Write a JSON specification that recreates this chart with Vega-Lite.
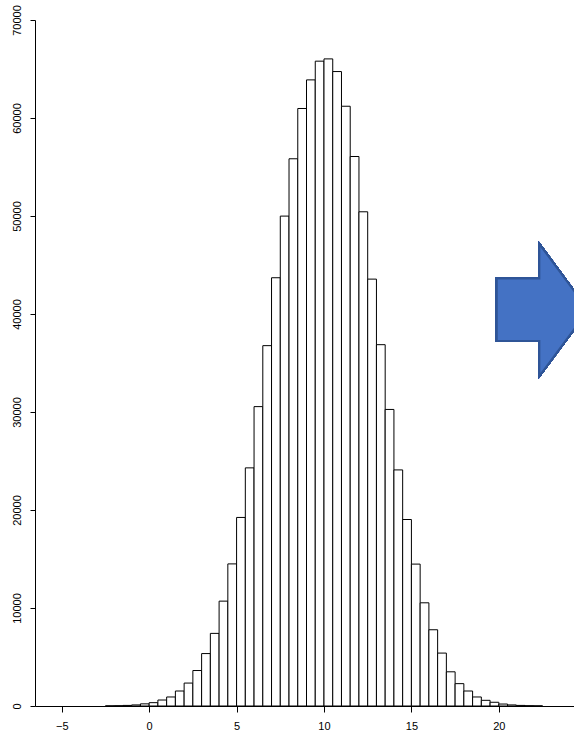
{
  "$schema": "https://vega.github.io/schema/vega-lite/v6.json",
  "autosize": {"type": "none"},
  "padding": {"left": 35, "top": 20, "right": 0, "bottom": 30},
  "width": 539,
  "height": 686,
  "background": "white",
  "config": {
    "view": {"stroke": null},
    "font": "Liberation Sans",
    "axis": {
      "grid": false,
      "domainColor": "black",
      "domainWidth": 1,
      "tickColor": "black",
      "tickWidth": 1,
      "labelColor": "black",
      "labelFont": "Liberation Sans",
      "labelFontSize": 11,
      "title": null
    }
  },
  "data": {
    "values": [
      {"bin_start": -2.5, "bin_end": -2.0, "count": 15},
      {"bin_start": -2.0, "bin_end": -1.5, "count": 30},
      {"bin_start": -1.5, "bin_end": -1.0, "count": 60},
      {"bin_start": -1.0, "bin_end": -0.5, "count": 110},
      {"bin_start": -0.5, "bin_end": 0.0, "count": 220},
      {"bin_start": 0.0, "bin_end": 0.5, "count": 340},
      {"bin_start": 0.5, "bin_end": 1.0, "count": 610},
      {"bin_start": 1.0, "bin_end": 1.5, "count": 920},
      {"bin_start": 1.5, "bin_end": 2.0, "count": 1530},
      {"bin_start": 2.0, "bin_end": 2.5, "count": 2340},
      {"bin_start": 2.5, "bin_end": 3.0, "count": 3620},
      {"bin_start": 3.0, "bin_end": 3.5, "count": 5350},
      {"bin_start": 3.5, "bin_end": 4.0, "count": 7410},
      {"bin_start": 4.0, "bin_end": 4.5, "count": 10700},
      {"bin_start": 4.5, "bin_end": 5.0, "count": 14500},
      {"bin_start": 5.0, "bin_end": 5.5, "count": 19240},
      {"bin_start": 5.5, "bin_end": 6.0, "count": 24300},
      {"bin_start": 6.0, "bin_end": 6.5, "count": 30550},
      {"bin_start": 6.5, "bin_end": 7.0, "count": 36770},
      {"bin_start": 7.0, "bin_end": 7.5, "count": 43700},
      {"bin_start": 7.5, "bin_end": 8.0, "count": 49990},
      {"bin_start": 8.0, "bin_end": 8.5, "count": 55840},
      {"bin_start": 8.5, "bin_end": 9.0, "count": 60970},
      {"bin_start": 9.0, "bin_end": 9.5, "count": 63890},
      {"bin_start": 9.5, "bin_end": 10.0, "count": 65800},
      {"bin_start": 10.0, "bin_end": 10.5, "count": 66030},
      {"bin_start": 10.5, "bin_end": 11.0, "count": 64740},
      {"bin_start": 11.0, "bin_end": 11.5, "count": 61200},
      {"bin_start": 11.5, "bin_end": 12.0, "count": 56070},
      {"bin_start": 12.0, "bin_end": 12.5, "count": 50430},
      {"bin_start": 12.5, "bin_end": 13.0, "count": 43560},
      {"bin_start": 13.0, "bin_end": 13.5, "count": 36870},
      {"bin_start": 13.5, "bin_end": 14.0, "count": 30260},
      {"bin_start": 14.0, "bin_end": 14.5, "count": 24090},
      {"bin_start": 14.5, "bin_end": 15.0, "count": 19030},
      {"bin_start": 15.0, "bin_end": 15.5, "count": 14480},
      {"bin_start": 15.5, "bin_end": 16.0, "count": 10530},
      {"bin_start": 16.0, "bin_end": 16.5, "count": 7780},
      {"bin_start": 16.5, "bin_end": 17.0, "count": 5400},
      {"bin_start": 17.0, "bin_end": 17.5, "count": 3490},
      {"bin_start": 17.5, "bin_end": 18.0, "count": 2280},
      {"bin_start": 18.0, "bin_end": 18.5, "count": 1530},
      {"bin_start": 18.5, "bin_end": 19.0, "count": 920},
      {"bin_start": 19.0, "bin_end": 19.5, "count": 580},
      {"bin_start": 19.5, "bin_end": 20.0, "count": 380},
      {"bin_start": 20.0, "bin_end": 20.5, "count": 200},
      {"bin_start": 20.5, "bin_end": 21.0, "count": 110},
      {"bin_start": 21.0, "bin_end": 21.5, "count": 60},
      {"bin_start": 21.5, "bin_end": 22.0, "count": 30},
      {"bin_start": 22.0, "bin_end": 22.5, "count": 15}
    ]
  },
  "layer": [
    {
      "mark": {"type": "rect", "fill": "white", "stroke": "black", "strokeWidth": 1},
      "encoding": {
        "x": {
          "field": "bin_start",
          "type": "quantitative",
          "scale": {"domain": [-6.53, 24.3], "nice": false, "zero": false},
          "axis": {
            "values": [-5, 0, 5, 10, 15, 20],
            "tickSize": 6,
            "labelPadding": 8,
            "labelFlush": false,
            "format": "d"
          }
        },
        "x2": {"field": "bin_end"},
        "y": {
          "field": "count",
          "type": "quantitative",
          "scale": {"domain": [0, 70000], "nice": false},
          "axis": {
            "values": [0, 10000, 20000, 30000, 40000, 50000, 60000, 70000],
            "tickSize": 5,
            "labelAngle": -90,
            "labelAlign": "center",
            "labelBaseline": "bottom",
            "labelPadding": 8,
            "labelFlush": false,
            "format": "d"
          }
        },
        "y2": {"datum": 0}
      }
    },
    {
      "mark": {
        "type": "point",
        "shape": "M -0.693 -0.48 L -0.048 -0.48 L -0.048 -1 L 0.693 0 L -0.048 1 L -0.048 0.47 L -0.693 0.47 Z",
        "size": 17424,
        "filled": true,
        "fill": "#4472C4",
        "stroke": "#2F5597",
        "strokeWidth": 2,
        "opacity": 1
      },
      "encoding": {
        "x": {"datum": 22.5, "type": "quantitative"},
        "y": {"datum": 40400, "type": "quantitative"}
      }
    }
  ]
}
